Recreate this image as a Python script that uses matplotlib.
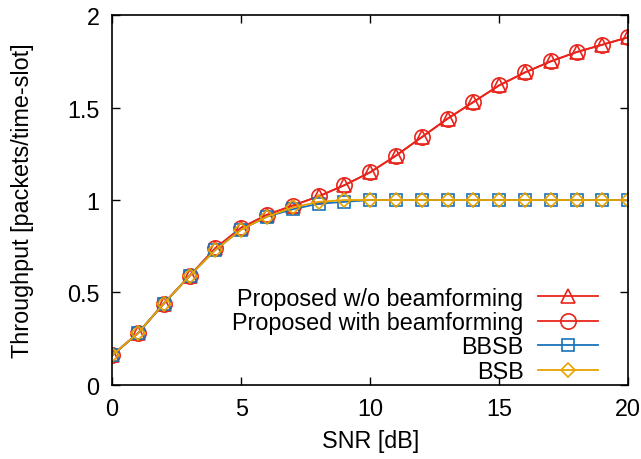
import matplotlib
matplotlib.use("Agg")
import matplotlib.pyplot as plt

snr = list(range(0, 21))
proposed_wo = [0.16, 0.28, 0.44, 0.59, 0.74, 0.85, 0.92, 0.97, 1.02, 1.08, 1.15,
               1.24, 1.34, 1.44, 1.53, 1.62, 1.69, 1.75, 1.80, 1.84, 1.88]
proposed_with = [0.16, 0.28, 0.44, 0.59, 0.74, 0.85, 0.92, 0.97, 1.02, 1.08, 1.15,
                 1.24, 1.34, 1.44, 1.53, 1.62, 1.69, 1.75, 1.80, 1.84, 1.88]
bbsb = [0.16, 0.28, 0.44, 0.59, 0.73, 0.84, 0.91, 0.95, 0.98, 0.99, 1.0,
        1.0, 1.0, 1.0, 1.0, 1.0, 1.0, 1.0, 1.0, 1.0, 1.0]
bsb = [0.16, 0.28, 0.44, 0.59, 0.73, 0.84, 0.91, 0.96, 0.99, 1.0, 1.0,
       1.0, 1.0, 1.0, 1.0, 1.0, 1.0, 1.0, 1.0, 1.0, 1.0]

plt.rcParams["font.family"] = ["Liberation Sans", "DejaVu Sans"]
plt.rcParams["font.size"] = 16.8

red = "#e8251c"
blue = "#1a72b8"
gold = "#e8a200"

fig = plt.figure(figsize=(6.41, 4.6), dpi=100)
ax = fig.add_axes([0.175, 0.161, 0.805, 0.804])

ax.plot(snr, proposed_wo, color=red, marker="^", ms=10, mfc="none", mew=1.2,
        lw=1.3, label="Proposed w/o beamforming")
ax.plot(snr, proposed_with, color=red, marker="o", ms=11, mfc="none", mew=1.2,
        lw=1.3, label="Proposed with beamforming")
ax.plot(snr, bbsb, color=blue, marker="s", ms=9, mfc="none", mew=1.2,
        lw=1.3, label="BBSB")
ax.plot(snr, bsb, color=gold, marker="D", ms=7.5, mfc="none", mew=1.2,
        lw=1.3, label="BSB")

ax.set_xlim(0, 20)
ax.set_ylim(0, 2)
ax.set_xticks([0, 5, 10, 15, 20])
ax.set_yticks([0, 0.5, 1, 1.5, 2])
ax.set_yticklabels(["0", "0.5", "1", "1.5", "2"])
ax.tick_params(direction="in", top=True, right=True, length=6, width=1, pad=9)
for s in ax.spines.values():
    s.set_linewidth(1.2)

ax.set_xlabel("SNR [dB]", labelpad=6)
ax.set_ylabel("Throughput [packets/time-slot]", labelpad=24)

ax.legend(loc="lower right", frameon=False, markerfirst=False, handlelength=2.6,
          labelspacing=0.06, handletextpad=0.6, borderaxespad=0, borderpad=0,
          bbox_to_anchor=(0.942, 0.006))

fig.savefig("out.png", dpi=100)
